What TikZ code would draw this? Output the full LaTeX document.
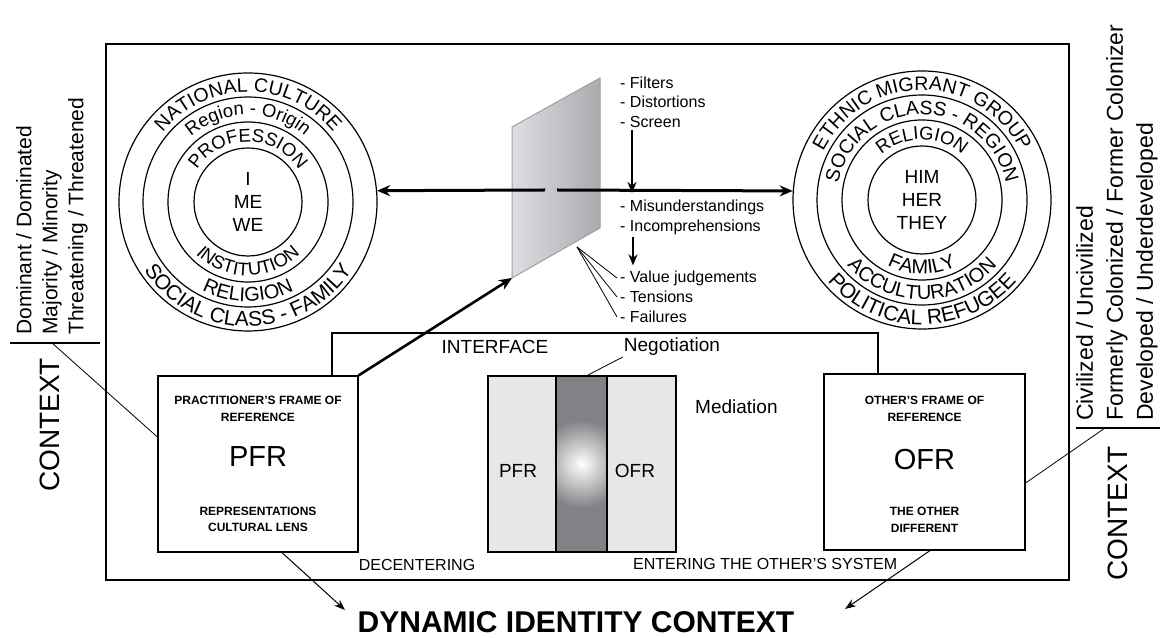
\documentclass[tikz,border=0pt]{standalone}
\usepackage{fontspec}
\setmainfont{Liberation Sans}
\usetikzlibrary{positioning}
\usetikzlibrary{arrows.meta, decorations.text}

\definecolor{panelgray}{HTML}{E6E7E8}
\definecolor{bandgray}{HTML}{808285}
\definecolor{screenlight}{HTML}{DDDEE1}
\definecolor{screendark}{HTML}{A9ABAE}
\definecolor{screenedge}{HTML}{9D9FA2}

\newcommand\ringbig{\fontsize{19.5}{19.5}\selectfont}
\newcommand\ringhuge{\fontsize{21}{21}\selectfont}
\newcommand\ringmid{\fontsize{18.5}{18.5}\selectfont}
\newcommand\ringwide{\fontsize{20}{20}\selectfont}

\begin{document}
\begin{tikzpicture}[x=1pt,y=1pt,
  ring/.style={circle,draw,line width=1.2pt,inner sep=0pt},
  arctext/.style={decorate,decoration={text along path,text align=center,text={#1}}},
  frbox/.style={draw,line width=1.2pt,rectangle,minimum width=200pt,minimum height=176pt,inner sep=0pt},
  boxhead/.style={font=\bfseries\fontsize{12}{16.5}\selectfont,align=center,inner sep=0pt},
  bigabbr/.style={font=\fontsize{29}{29}\selectfont,inner sep=0pt},
  labtxt/.style={font=\fontsize{19}{19}\selectfont,inner sep=0pt},
  smalltxt/.style={font=\fontsize{16}{16}\selectfont,inner sep=0pt},
  listtxt/.style={font=\fontsize{16}{19.5}\selectfont,align=left,inner sep=0pt,anchor=west},
  bigarrow/.style={line width=3pt,-{Stealth[length=13pt,width=11pt]}},
  midarrow/.style={line width=2pt,-{Stealth[length=11pt,width=9pt]}},
  thinarrow/.style={line width=1pt,-{Stealth[length=11pt,width=8pt]}}]
\useasboundingbox (0,0) rectangle (1161,637);

% outer frame
\draw[line width=1.5pt] (106,57) rectangle (1069,593);

% own identity rings
\coordinate (lc) at (248,435);
\node[ring,minimum size=258pt] (lring1) at (lc) {};
\node[ring,minimum size=210pt] (lring2) at (lc) {};
\node[ring,minimum size=160pt] (lring3) at (lc) {};
\node[ring,minimum size=108pt,align=center,font=\fontsize{19}{23}\selectfont] (lring4) at (lc) {I\\ME\\WE};
\path[arctext={|\ringbig|NATIONAL CULTURE}] ([shift={(178:110)}]lc) arc (178:2:110);
\path[arctext={|\ringhuge|SOCIAL CLASS - FAMILY}] ([shift={(182:124.5)}]lc) arc (182:358:124.5);
\path[arctext={|\ringmid|Region - Origin}] ([shift={(178:87)}]lc) arc (178:2:87);
\path[arctext={|\ringwide|RELIGION}] ([shift={(182:99.7)}]lc) arc (182:358:99.7);
\path[arctext={|\ringmid|PROFESSION}] ([shift={(178:60.3)}]lc) arc (178:2:60.3);
\path[arctext={|\ringmid|INSTITUTION}] ([shift={(182:73.7)}]lc) arc (182:358:73.7);

% other identity rings
\coordinate (rc) at (922,437);
\node[ring,minimum size=258pt] (rring1) at (rc) {};
\node[ring,minimum size=210pt] (rring2) at (rc) {};
\node[ring,minimum size=160pt] (rring3) at (rc) {};
\node[ring,minimum size=108pt,align=center,font=\fontsize{19}{23}\selectfont] (rring4) at (rc) {HIM\\HER\\THEY};
\path[arctext={|\ringbig|ETHNIC MIGRANT GROUP}] ([shift={(178:110)}]rc) arc (178:2:110);
\path[arctext={|\ringhuge|POLITICAL REFUGEE}] ([shift={(182:124.5)}]rc) arc (182:358:124.5);
\path[arctext={|\ringbig|SOCIAL CLASS - REGION}] ([shift={(178:85.5)}]rc) arc (178:2:85.5);
\path[arctext={|\ringwide|ACCULTURATION}] ([shift={(182:99.7)}]rc) arc (182:358:99.7);
\path[arctext={|\ringmid|RELIGION}] ([shift={(178:60.5)}]rc) arc (178:2:60.5);
\path[arctext={|\ringwide|FAMILY}] ([shift={(182:74.2)}]rc) arc (182:358:74.2);

% screen
\shade[left color=screenlight,right color=screendark,draw=screenedge,line width=1pt]
  (512,510) -- (600,559) -- (600,409) -- (512,359) -- cycle;
\coordinate (scrbl) at (512,359);
\coordinate (scrlow) at (577,390);
\coordinate (gapl) at (545,447);
\coordinate (gapr) at (557,447);
\draw[bigarrow] (gapl) -- (lring1.5);
\draw[bigarrow] (gapr) -- (rring1.176);

% lists
\node[listtxt] (filt) at (620,535) {- Filters\\- Distortions\\- Screen};
\node[listtxt] (misu) at (620,419.5) {- Misunderstandings\\- Incomprehensions};
\node[listtxt] (vj) at (620,359) {- Value judgements};
\node[listtxt] (tens) at (620,340) {- Tensions};
\node[listtxt] (fail) at (620,320) {- Failures};
\coordinate (filttip) at (632,444);
\draw[midarrow] ([yshift=-2pt]filt.south west -| filttip) -- (filttip);
\draw[midarrow,shorten >=5pt] ([xshift=13pt,yshift=-2pt]misu.south west) -- ([xshift=13pt]vj.north west);
\draw[line width=0.8pt] (scrlow) -- ([xshift=-3pt]vj.west);
\draw[line width=0.8pt] (scrlow) -- ([xshift=-3pt]tens.west);
\draw[line width=0.8pt] (scrlow) -- ([xshift=-3pt]fail.west);

% frames of reference
\node[frbox] (pfr) at (258,173) {};
\node[boxhead] (pfrhead) at (258,228) {PRACTITIONER’S FRAME OF\\REFERENCE};
\node[bigabbr] (pfrname) at (258,180) {PFR};
\node[boxhead] (pfrfoot) at (258,117.5) {REPRESENTATIONS\\CULTURAL LENS};
\node[frbox,minimum width=201pt] (ofr) at (924.5,175) {};
\node[boxhead] (ofrhead) at (924.5,228) {OTHER’S FRAME OF\\REFERENCE};
\node[bigabbr] (ofrname) at (924.5,177) {OFR};
\node[boxhead] (ofrfoot) at (924.5,117) {THE OTHER\\DIFFERENT};

\draw[bigarrow,line width=2.6pt] (pfr.north east) -- (scrbl);

% interface
\coordinate (ifl) at (332,304);
\coordinate (ifr) at (878,304);
\draw[line width=1.2pt] (ifl |- pfr.north) -- (ifl) -- (ifr) -- (ifr |- ofr.north);
\fill[panelgray] (488,85) rectangle (676,261);
\fill[bandgray] (556,85) rectangle (607,261);
\begin{scope}
\clip (556,85) rectangle (607,261);
\shade[inner color=white,outer color=bandgray] (581.5,173) circle (44);
\end{scope}
\draw[line width=1.2pt] (488,85) rectangle (676,261);
\draw[line width=1.2pt] (556,85) -- (556,261);
\draw[line width=1.2pt] (607,85) -- (607,261);
\coordinate (bandtop) at (588,262);
\node[labtxt] (ipfr) at (518,166) {PFR};
\node[labtxt] (iofr) at (635,166) {OFR};
\node[labtxt] (iface) at (495,290) {INTERFACE};
\node[labtxt] (nego) at (672,290) {Negotiation};
\node[labtxt,anchor=west] (medi) at (695,230) {Mediation};
\draw[line width=0.8pt] (bandtop) -- ([xshift=-1pt,yshift=-1pt]nego.south west);
\node[smalltxt] (decen) at (417,72) {DECENTERING};
\node[smalltxt,anchor=west] (enter) at (633,73) {ENTERING THE OTHER’S SYSTEM};

% dynamic identity context
\node[font=\bfseries\fontsize{30}{30}\selectfont,inner sep=0pt] (title) at (576,15) {DYNAMIC IDENTITY CONTEXT};
\coordinate (dicl) at (345,27);
\coordinate (dicr) at (845,28);
\draw[thinarrow] ([xshift=24pt]pfr.south) -- (dicl);
\draw[thinarrow] ([xshift=5.5pt]ofr.south) -- (dicr);

% left context
\coordinate (lctx) at (52,294);
\draw[line width=1.2pt] (10,294) -- (100,294);
\node[font=\fontsize{21}{26}\selectfont,rotate=90,anchor=west,align=left,inner sep=0pt] (lconds) at (52,302)
  {Dominant / Dominated\\Majority / Minority\\Threatening / Threatened};
\node[font=\fontsize{28}{28}\selectfont,rotate=90,inner sep=0pt] (lctxname) at (50,212) {CONTEXT};
\draw[line width=0.8pt] (lctx) -- ([yshift=27pt]pfr.west);

% right context
\coordinate (rctx) at (1105,209);
\draw[line width=1.2pt] (1076,209) -- (1160,209);
\node[font=\fontsize{23}{30}\selectfont,rotate=90,anchor=west,align=left,inner sep=0pt] (rconds) at (1117,216)
  {Civilized / Uncivilized\\Formerly Colonized / Former Colonizer\\Developed / Underdeveloped};
\node[font=\fontsize{28}{28}\selectfont,rotate=90,inner sep=0pt] (rctxname) at (1118,123.5) {CONTEXT};
\draw[line width=0.8pt] ([yshift=-21pt]ofr.east) -- (rctx);

\end{tikzpicture}
\end{document}
